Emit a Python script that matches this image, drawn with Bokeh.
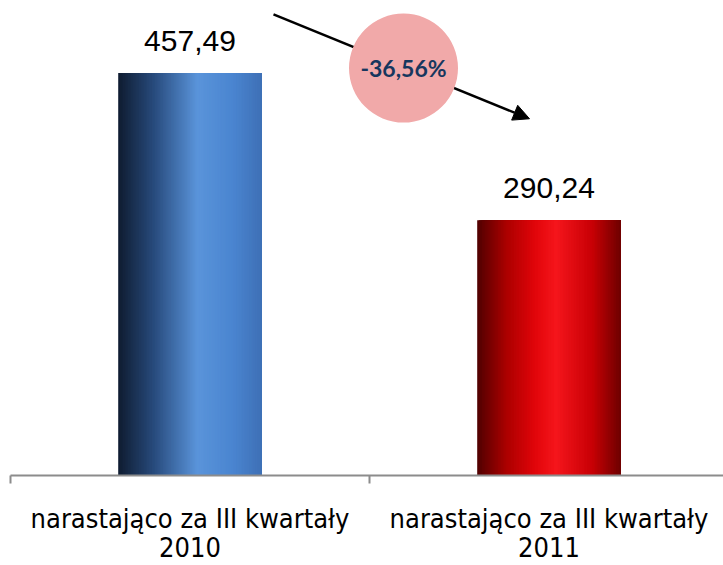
from bokeh.plotting import figure
from bokeh.models import Range1d, FixedTicker, Arrow, NormalHead, Label
from bokeh.core.properties import value
from bokeh.embed import file_html
from bokeh.resources import INLINE
import numpy as np

# ---- data ----
categories = ["narastająco za III kwartały\n2010", "narastająco za III kwartały\n2011"]
values = [457.49, 290.24]
change_pct = (values[1] / values[0] - 1) * 100  # -36.56 %

# gradient stops (position across bar, colour) for each bar
blue_stops = [(0.0, (15, 28, 48)), (0.25, (40, 75, 125)), (0.55, (90, 148, 218)),
              (0.8, (74, 133, 208)), (1.0, (62, 112, 182))]
red_stops = [(0.0, (80, 0, 0)), (0.2, (170, 0, 0)), (0.4, (225, 5, 10)),
             (0.55, (245, 22, 28)), (0.8, (200, 0, 5)), (1.0, (110, 0, 0))]
bar_stops = [blue_stops, red_stops]

W, H = 723, 565
TOP, BOTTOM, LEFT = 0, 87, 10
FW = W - LEFT
FH = H - TOP - BOTTOM
XMAX = FW / 359.0
YMAX = FH / 0.8854
p = figure(width=W, height=H, output_backend="svg", toolbar_location=None,
           x_range=Range1d(0, XMAX), y_range=Range1d(0, YMAX),
           min_border_left=LEFT, min_border_right=0, min_border_top=TOP,
           min_border_bottom=BOTTOM)
p.outline_line_color = None
p.grid.visible = False
p.yaxis.visible = False
p.background_fill_color = "white"
p.border_fill_color = "white"

centers = [i + 0.5 for i in range(len(values))]
bar_w = 0.4
N = 90


def interp(stops, t):
    for (t0, c0), (t1, c1) in zip(stops[:-1], stops[1:]):
        if t0 <= t <= t1:
            f = (t - t0) / (t1 - t0) if t1 > t0 else 0
            return "#%02x%02x%02x" % tuple(int(round(a + (b - a) * f)) for a, b in zip(c0, c1))
    return "#%02x%02x%02x" % stops[-1][1]


for c, v, stops in zip(centers, values, bar_stops):
    ts = np.arange(N) / N
    lefts = c - bar_w / 2 + ts * bar_w
    rights = [c + bar_w / 2] * N
    cols = [interp(stops, t + 0.5 / N) for t in ts]
    p.quad(left=lefts, right=rights, top=[v] * N, bottom=[0] * N,
           fill_color=cols, line_color=None)

# value labels
p.text(x=centers, y=values, text=[f"{v:.2f}".replace(".", ",") for v in values],
       text_font=value("Liberation Sans"), text_font_size="30px", text_color="black",
       text_align="center", text_baseline="alphabetic", y_offset=-32)

# x axis with boundary ticks
ax = p.xaxis[0]
ax.ticker = FixedTicker(ticks=centers, minor_ticks=[0, 1, 2])
ax.major_label_overrides = {c: lab for c, lab in zip(centers, categories)}
ax.axis_line_color = "#8C8C8C"
ax.axis_line_width = 2
ax.major_tick_line_color = None
ax.major_tick_out = 8
ax.major_tick_in = 0
ax.minor_tick_line_color = "#8C8C8C"
ax.minor_tick_line_width = 2
ax.minor_tick_out = 8
ax.minor_tick_in = 0
ax.major_label_standoff = 19
ax.major_label_text_font = "DejaVu Sans Condensed"
ax.major_label_text_font_size = "27px"
ax.major_label_text_color = "black"
ax.major_label_text_line_height = 0.95

# annotation: arrow + circle + percentage
sx = XMAX / FW
sy = YMAX / FH
def px(x):  # page x -> data
    return (x - LEFT) * sx
def py(y):  # page y -> data
    return (TOP + FH - y) * sy

arrow = Arrow(end=NormalHead(size=16, fill_color="black", line_color="black"),
              x_start=px(273), y_start=py(14), x_end=px(529), y_end=py(119),
              line_color="black", line_width=2.5, level="underlay")
p.add_layout(arrow)
p.scatter(x=[px(403)], y=[py(68)], marker="circle", size=109,
          fill_color="#F1A9A9", line_color=None)
p.add_layout(Label(x=px(403), y=py(68), text=f"{change_pct:.2f}%".replace(".", ","),
                   text_font="Lato", text_font_style="bold", text_font_size="23px",
                   text_color="#17375E", text_align="center", text_baseline="middle"))

open("out.html", "w").write(file_html(p, INLINE))
